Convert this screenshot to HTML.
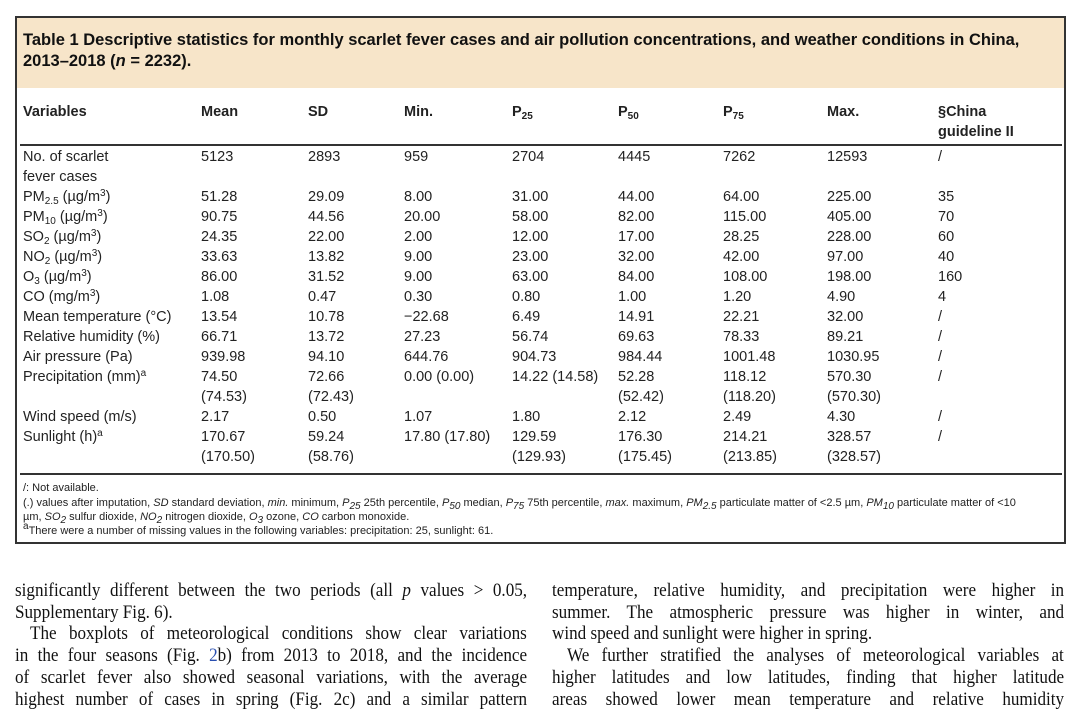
<!DOCTYPE html>
<html><head><meta charset="utf-8"><style>
body{margin:0;width:1080px;height:697px;background:#fff;position:relative;overflow:hidden;font-family:"Liberation Sans",sans-serif;color:#222}
.a{position:absolute;white-space:nowrap}
.t{font-size:14.5px;line-height:18px}
.h{font-weight:bold;font-size:14.5px}
sub{font-size:10px;vertical-align:-3px;line-height:0}
sup{font-size:10px;vertical-align:5px;line-height:0}
.fn{font-size:11px;transform-origin:0 0;transform:scaleX(1.0)}
.b{font-family:"Liberation Serif",serif;font-size:19px;color:#111;width:569px;text-align:justify;text-align-last:justify;transform-origin:0 0;transform:scaleX(0.9)}
.b.l{text-align-last:left}
</style></head><body>
<div style="position:absolute;left:15px;top:16px;width:1047px;height:524px;border:2px solid #333"></div>
<div style="position:absolute;left:17px;top:18px;width:1047px;height:70px;background:#f7e5c9"></div>
<div class="a" style="left:23px;top:30px;font-weight:bold;font-size:16.5px;line-height:21px;color:#111">Table 1 Descriptive statistics for monthly scarlet fever cases and air pollution concentrations, and weather conditions in China,<br>2013–2018 (<i>n</i> = 2232).</div>
<div style="position:absolute;left:20px;top:144px;width:1042px;height:2px;background:#333"></div>
<div style="position:absolute;left:20px;top:473px;width:1042px;height:2px;background:#333"></div>
<div id="tbl"></div>
<div class="a fn" style="left:23px;top:482px">/: Not available.</div>
<div class="a fn" style="left:23px;top:497px">(.) values after imputation, <i>SD</i> standard deviation, <i>min.</i> minimum, <i>P<sub>25</sub></i> 25th percentile, <i>P<sub>50</sub></i> median, <i>P<sub>75</sub></i> 75th percentile, <i>max.</i> maximum, <i>PM<sub>2.5</sub></i> particulate matter of &lt;2.5 µm, <i>PM<sub>10</sub></i> particulate matter of &lt;10</div>
<div class="a fn" style="left:23px;top:511px">µm, <i>SO<sub>2</sub></i> sulfur dioxide, <i>NO<sub>2</sub></i> nitrogen dioxide, <i>O<sub>3</sub></i> ozone, <i>CO</i> carbon monoxide.</div>
<div class="a fn" style="left:23px;top:525px"><sup>a</sup>There were a number of missing values in the following variables: precipitation: 25, sunlight: 61.</div>

<div class="a b" style="left:15px;top:580px">significantly different between the two periods (all <i>p</i> values &gt; 0.05,</div>
<div class="a b l" style="left:15px;top:602px">Supplementary Fig. 6).</div>
<div class="a b" style="left:30px;top:623px;width:552px">The boxplots of meteorological conditions show clear variations</div>
<div class="a b" style="left:15px;top:645px">in the four seasons (Fig. <span style="color:#2a4fb0">2</span>b) from 2013 to 2018, and the incidence</div>
<div class="a b" style="left:15px;top:667px">of scarlet fever also showed seasonal variations, with the average</div>
<div class="a b" style="left:15px;top:689px">highest number of cases in spring (Fig. 2c) and a similar pattern</div>
<div class="a b" style="left:552px;top:580px">temperature, relative humidity, and precipitation were higher in</div>
<div class="a b" style="left:552px;top:602px">summer. The atmospheric pressure was higher in winter, and</div>
<div class="a b l" style="left:552px;top:623px">wind speed and sunlight were higher in spring.</div>
<div class="a b" style="left:567px;top:645px;width:552px">We further stratified the analyses of meteorological variables at</div>
<div class="a b" style="left:552px;top:667px">higher latitudes and low latitudes, finding that higher latitude</div>
<div class="a b" style="left:552px;top:689px">areas showed lower mean temperature and relative humidity</div>
<script>
const colX=[23,201,308,404,512,618,723,827,938];
const headers=["Variables","Mean","SD","Min.","P<sub>25</sub>","P<sub>50</sub>","P<sub>75</sub>","Max.","§China<br>guideline II"];
const rows=[
["No. of scarlet<br>fever cases","5123","2893","959","2704","4445","7262","12593","/"],
["PM<sub>2.5</sub> (µg/m<sup>3</sup>)","51.28","29.09","8.00","31.00","44.00","64.00","225.00","35"],
["PM<sub>10</sub> (µg/m<sup>3</sup>)","90.75","44.56","20.00","58.00","82.00","115.00","405.00","70"],
["SO<sub>2</sub> (µg/m<sup>3</sup>)","24.35","22.00","2.00","12.00","17.00","28.25","228.00","60"],
["NO<sub>2</sub> (µg/m<sup>3</sup>)","33.63","13.82","9.00","23.00","32.00","42.00","97.00","40"],
["O<sub>3</sub> (µg/m<sup>3</sup>)","86.00","31.52","9.00","63.00","84.00","108.00","198.00","160"],
["CO (mg/m<sup>3</sup>)","1.08","0.47","0.30","0.80","1.00","1.20","4.90","4"],
["Mean temperature (°C)","13.54","10.78","−22.68","6.49","14.91","22.21","32.00","/"],
["Relative humidity (%)","66.71","13.72","27.23","56.74","69.63","78.33","89.21","/"],
["Air pressure (Pa)","939.98","94.10","644.76","904.73","984.44","1001.48","1030.95","/"],
["Precipitation (mm)<sup>a</sup>","74.50<br>(74.53)","72.66<br>(72.43)","0.00 (0.00)","14.22 (14.58)","52.28<br>(52.42)","118.12<br>(118.20)","570.30<br>(570.30)","/"],
["Wind speed (m/s)","2.17","0.50","1.07","1.80","2.12","2.49","4.30","/"],
["Sunlight (h)<sup>a</sup>","170.67<br>(170.50)","59.24<br>(58.76)","17.80 (17.80)","129.59<br>(129.93)","176.30<br>(175.45)","214.21<br>(213.85)","328.57<br>(328.57)","/"]];
const rowY=[147,187,207,227,247,267,287,307,327,347,367,407,427];
const tbl=document.getElementById('tbl');
headers.forEach((h,i)=>{const d=document.createElement('div');


d.className='a h';d.style.left=colX[i]+'px';d.style.top='102px';d.style.lineHeight='20px';d.innerHTML=h;tbl.appendChild(d);});
rows.forEach((r,ri)=>r.forEach((c,ci)=>{const d=document.createElement('div');


d.className='a t';d.style.left=colX[ci]+'px';d.style.top=rowY[ri]+'px';d.style.lineHeight='20px';d.innerHTML=c;tbl.appendChild(d);}));
</script>
</body></html>
